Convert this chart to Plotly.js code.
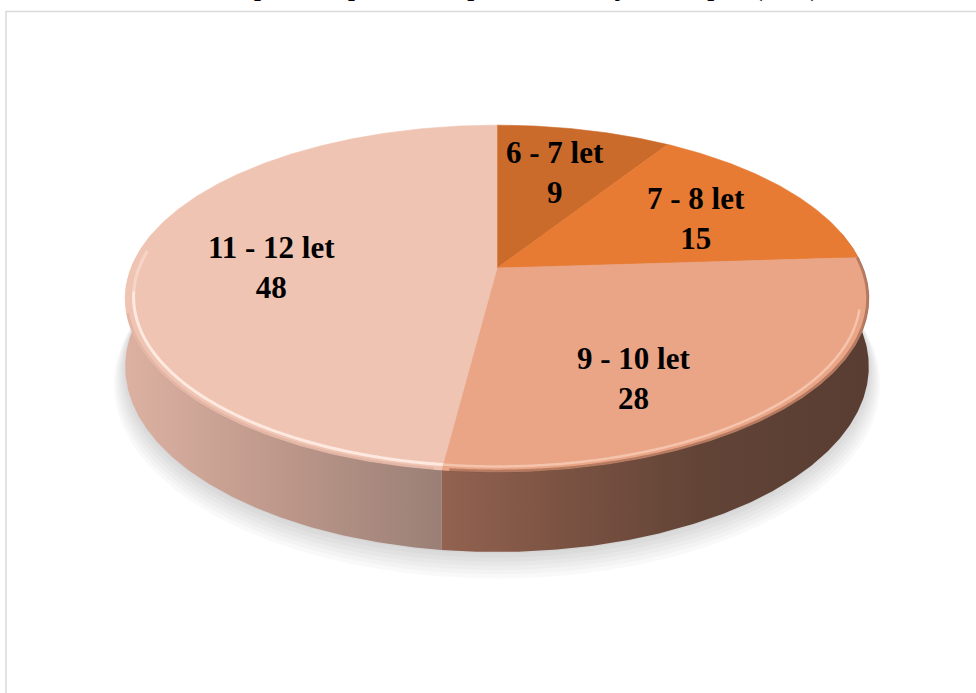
<!DOCTYPE html>
<html>
<head>
<meta charset="utf-8">
<script src="https://cdn.plot.ly/plotly-3.0.1.min.js"></script>
<style>
  html, body { margin: 0; padding: 0; background: #ffffff; }
  #chart { width: 976px; height: 693px; }
</style>
</head>
<body>
<div id="chart"></div>
<script>
// Age groups and their share (v %)
const categories = ['6 - 7 let', '7 - 8 let', '9 - 10 let', '11 - 12 let'];
const values = [9, 15, 28, 48];
const titleText = 'Zastoupení respondentů podle věkových skupin (v %)';

// Top-face colours of the slices
const topColors = ['#CB6B2B', '#E87B34', '#EAA587', '#F0C4B3'];
// Side-wall shading (left -> right) of the slices
const wallScales = [
  [[0, '#7a4a2c'], [1, '#6a4230']],
  [[0, '#6e4530'], [1, '#5c3e31']],
  [[0, '#936250'], [0.3, '#7a5242'], [0.6, '#624437'], [1, '#593d32']],
  [[0, '#dcb1a2'], [0.45, '#c09a8c'], [1, '#9a7f76']]
];
// Label nudges in pixels
const labelShift = [[1, -5], [14, 1], [-32, 28], [-1, 6]];

// Perspective disc: centre, radii, tilt and thickness
const CX = 497, CY = 268, RA = 366, RB = 168, K = 0.176, DEPTH = 66;

function proj(deg, r, drop) {
  const t = deg * Math.PI / 180;
  const u = r * Math.sin(t), v = -r * Math.cos(t);
  const w = 1 - K * v;
  return [CX + RA * u / w, CY + (RB * v + DEPTH * drop) / w];
}
function arc(a0, a1, r, drop) {
  const xs = [], ys = [];
  const n = Math.max(2, Math.ceil(Math.abs(a1 - a0) / 0.5));
  for (let i = 0; i <= n; i++) {
    const p = proj(a0 + (a1 - a0) * i / n, r, drop);
    xs.push(p[0]); ys.push(p[1]);
  }
  return {x: xs, y: ys};
}

const total = values.reduce((s, v) => s + v, 0);
const starts = [], ends = [];
let acc = 0;
values.forEach(v => { starts.push(acc / total * 360); acc += v; ends.push(acc / total * 360); });

const traces = [];

// soft shadow under the disc
for (let i = 0; i < 7; i++) {
  const s = arc(0, 360, 1.0 + 0.005 * i, 1.02 + 0.035 * i);
  traces.push({type: 'scatter', mode: 'lines', x: s.x, y: s.y, fill: 'toself',
    fillcolor: 'rgba(0,0,0,0.022)', line: {width: 0}, hoverinfo: 'skip', showlegend: false});
}

// side walls (front half only)
values.forEach((v, i) => {
  const lo = Math.max(starts[i], 78), hi = Math.min(ends[i], 282);
  if (hi <= lo) return;
  const t = arc(lo, hi, 1, 0), b = arc(hi, lo, 1, 1);
  traces.push({type: 'scatter', mode: 'lines',
    x: t.x.concat(b.x), y: t.y.concat(b.y), fill: 'toself',
    fillgradient: {type: 'horizontal', colorscale: wallScales[i]},
    line: {width: 0}, hoverinfo: 'skip', showlegend: false});
});

// top faces
values.forEach((v, i) => {
  const a = arc(starts[i], ends[i], 1, 0);
  traces.push({type: 'scatter', mode: 'lines',
    x: [CX].concat(a.x, [CX]), y: [CY].concat(a.y, [CY]), fill: 'toself',
    fillcolor: topColors[i], line: {color: topColors[i], width: 0.6},
    hoverinfo: 'skip', showlegend: false, name: categories[i]});
});

// rounded rim: darker edge and bright bevel line
function rim(a0, a1, r, color, width) {
  const a = arc(a0, a1, r, 0);
  traces.push({type: 'scatter', mode: 'lines', x: a.x, y: a.y,
    line: {color: color, width: width, shape: 'spline'}, hoverinfo: 'skip', showlegend: false});
}
rim(Math.max(starts[2], 84), ends[2] - 1, 0.997, 'rgba(120,72,52,0.45)', 3);
rim(ends[2] + 1, 255, 0.997, 'rgba(190,140,122,0.25)', 3);
rim(Math.max(starts[2], 104), ends[2], 0.978, 'rgba(255,228,210,0.5)', 2.5);
rim(ends[2], 262, 0.978, 'rgba(255,240,232,0.85)', 3);
rim(262, 276, 0.978, 'rgba(255,240,232,0.4)', 3);

// slice labels
const annotations = values.map((v, i) => {
  const mid = (starts[i] + ends[i]) / 2;
  const p = proj(mid, 0.62, 0);
  return {x: p[0], y: p[1], xref: 'x', yref: 'y', showarrow: false,
    text: '<b>' + categories[i] + '<br>' + v + '</b>',
    xshift: labelShift[i][0], yshift: -labelShift[i][1],
    font: {family: 'Liberation Serif, Times New Roman, serif', size: 31, color: '#000000'},
    align: 'center', xanchor: 'center', yanchor: 'middle'};
});
// chart title, running off the top edge
annotations.push({x: 0.508, y: 1, xref: 'paper', yref: 'paper', xanchor: 'center', yanchor: 'bottom',
  yshift: -4, showarrow: false, text: titleText,
  font: {family: 'Liberation Serif, Times New Roman, serif', size: 30, color: '#000000'}});

const layout = {
  width: 976, height: 693,
  margin: {l: 0, r: 0, t: 0, b: 0},
  paper_bgcolor: '#ffffff', plot_bgcolor: '#ffffff',
  showlegend: false,
  xaxis: {range: [0, 976], visible: false, fixedrange: true},
  yaxis: {range: [693, 0], visible: false, fixedrange: true},
  shapes: [{type: 'rect', xref: 'x', yref: 'y', x0: 6, y0: 11.5, x1: 1000, y1: 720,
    line: {color: '#d9d9d9', width: 1.5}, layer: 'below'}],
  annotations: annotations
};

Plotly.newPlot('chart', traces, layout, {displayModeBar: false, staticPlot: true});
</script>
</body>
</html>
